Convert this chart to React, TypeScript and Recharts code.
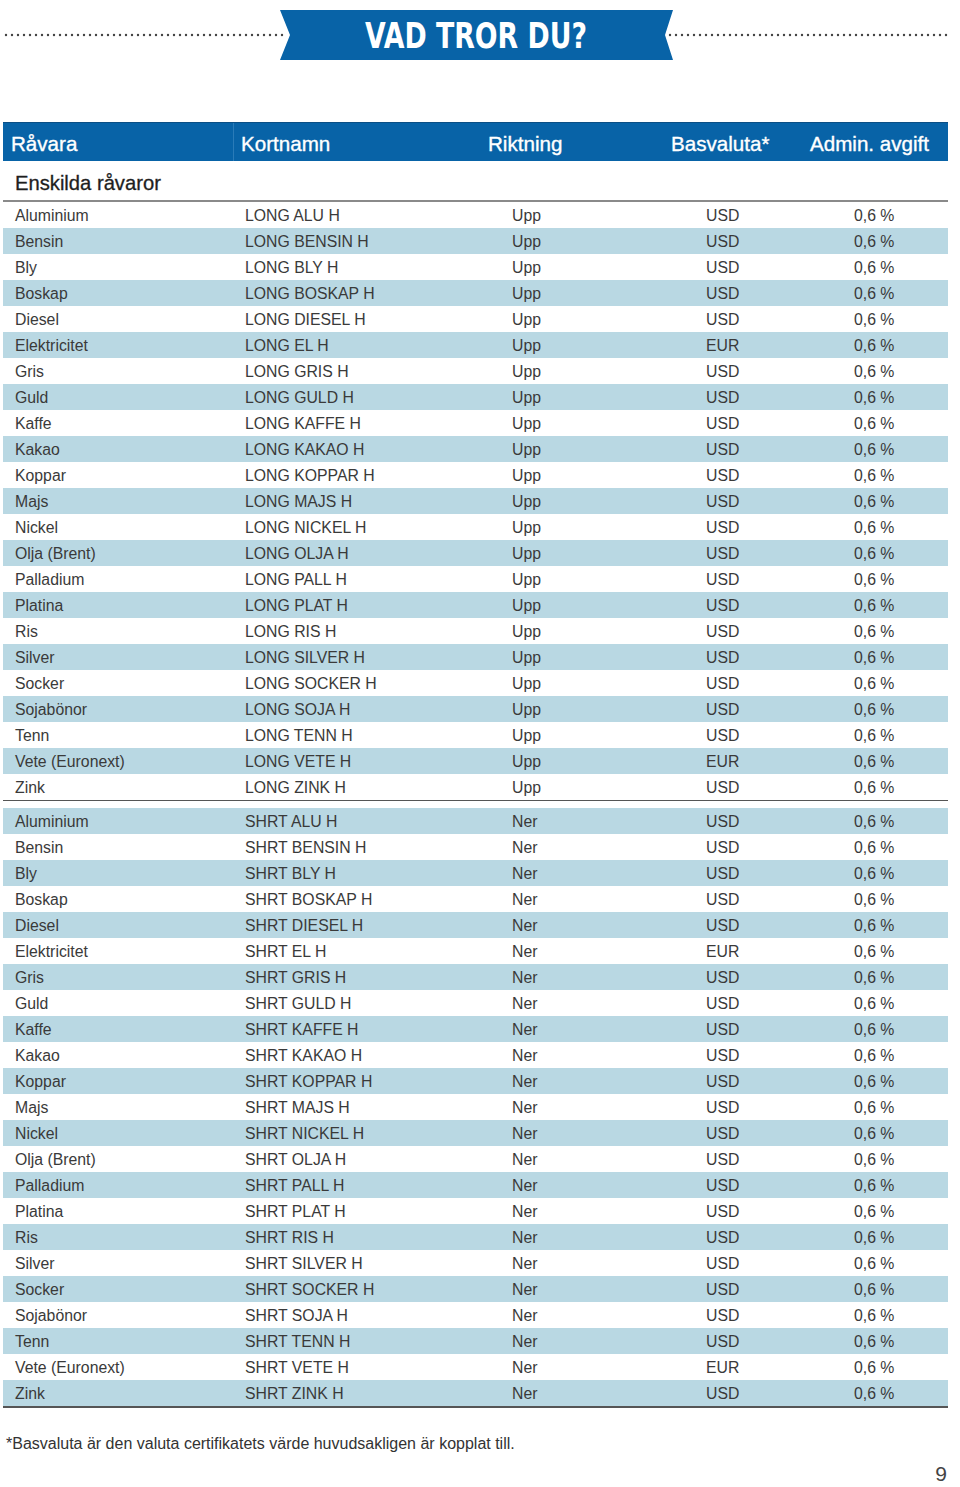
import React from 'react';
import { BarChart, Bar, XAxis, YAxis, Cell, LabelList } from 'recharts';

const HEADERS = ['Råvara', 'Kortnamn', 'Riktning', 'Basvaluta*', 'Admin. avgift'];

const COMMODITIES = [
    'Aluminium', 'Bensin', 'Bly', 'Boskap', 'Diesel', 'Elektricitet', 'Gris', 'Guld',
    'Kaffe', 'Kakao', 'Koppar', 'Majs', 'Nickel', 'Olja (Brent)', 'Palladium', 'Platina',
    'Ris', 'Silver', 'Socker', 'Sojabönor', 'Tenn', 'Vete (Euronext)', 'Zink',
];

const LONG_NAMES = [
    'LONG ALU H', 'LONG BENSIN H', 'LONG BLY H', 'LONG BOSKAP H', 'LONG DIESEL H', 'LONG EL H',
    'LONG GRIS H', 'LONG GULD H', 'LONG KAFFE H', 'LONG KAKAO H', 'LONG KOPPAR H', 'LONG MAJS H',
    'LONG NICKEL H', 'LONG OLJA H', 'LONG PALL H', 'LONG PLAT H', 'LONG RIS H', 'LONG SILVER H',
    'LONG SOCKER H', 'LONG SOJA H', 'LONG TENN H', 'LONG VETE H', 'LONG ZINK H',
];

const SHORT_NAMES = [
    'SHRT ALU H', 'SHRT BENSIN H', 'SHRT BLY H', 'SHRT BOSKAP H', 'SHRT DIESEL H', 'SHRT EL H',
    'SHRT GRIS H', 'SHRT GULD H', 'SHRT KAFFE H', 'SHRT KAKAO H', 'SHRT KOPPAR H', 'SHRT MAJS H',
    'SHRT NICKEL H', 'SHRT OLJA H', 'SHRT PALL H', 'SHRT PLAT H', 'SHRT RIS H', 'SHRT SILVER H',
    'SHRT SOCKER H', 'SHRT SOJA H', 'SHRT TENN H', 'SHRT VETE H', 'SHRT ZINK H',
];

const CURRENCIES = [
    'USD', 'USD', 'USD', 'USD', 'USD', 'EUR', 'USD', 'USD', 'USD', 'USD', 'USD', 'USD',
    'USD', 'USD', 'USD', 'USD', 'USD', 'USD', 'USD', 'USD', 'USD', 'EUR', 'USD',
];

const FEES = COMMODITIES.map(() => '0,6 %');

const BLUE = '#0863a7';
const STRIPE = '#b9d8e3';
const FONT = '"Liberation Sans", Arial, Helvetica, sans-serif';

// text x offsets inside the table (table starts at x=3)
const COL_X = [12, 242, 509, 703, 851];

const makeCol = (colX: number) => (props: any) => {
    const { x, y, height, value } = props;
    return (
        <text
            x={Number(x) + colX}
            y={Number(y) + Number(height) / 2 + 5.5}
            fontSize={15.8}
            fontFamily={FONT}
            fill="#3a3a3a"
        >
            {value}
        </text>
    );
};

const GroupTable: React.FC<{ names: string[]; dir: string; stripeOdd: boolean }> = ({ names, dir, stripeOdd }) => {
    const data = COMMODITIES.map((c, i) => ({
        name: c,
        code: names[i],
        dir,
        cur: CURRENCIES[i],
        fee: FEES[i],
        band: 1,
    }));
    return (
        <BarChart
            width={945}
            height={598}
            data={data}
            layout="vertical"
            margin={{ top: 0, right: 0, bottom: 0, left: 0 }}
            barCategoryGap={0}
        >
            <XAxis type="number" domain={[0, 1]} hide />
            <YAxis type="category" dataKey="name" hide />
            <Bar dataKey="band" isAnimationActive={false}>
                {data.map((d, i) => (
                    <Cell key={`c-${i}`} fill={(i % 2 === 1) === stripeOdd ? STRIPE : '#ffffff'} />
                ))}
                <LabelList dataKey="name" content={makeCol(COL_X[0])} />
                <LabelList dataKey="code" content={makeCol(COL_X[1])} />
                <LabelList dataKey="dir" content={makeCol(COL_X[2])} />
                <LabelList dataKey="cur" content={makeCol(COL_X[3])} />
                <LabelList dataKey="fee" content={makeCol(COL_X[4])} />
            </Bar>
        </BarChart>
    );
};

const App: React.FC = () => {
    return (
        <div style={{ position: 'absolute', left: 0, top: 0, width: 960, height: 1487, background: '#fff', fontFamily: FONT }}>
            {/* title, header bar and rules */}
            <svg width={960} height={1487} style={{ position: 'absolute', left: 0, top: 0 }}>
                <line x1={6} y1={35} x2={286} y2={35} stroke="#444" strokeWidth={2.4} strokeDasharray="0 6" strokeLinecap="round" />
                <line x1={670} y1={35} x2={950} y2={35} stroke="#444" strokeWidth={2.4} strokeDasharray="0 6" strokeLinecap="round" />
                <polygon points="280,10 673,10 665,35 673,60 280,60 290,35" fill={BLUE} />
                <text x={365} y={48} fontSize={35} fontWeight="bold" fill="#fff"
                    textLength={222} lengthAdjust="spacingAndGlyphs"
                    fontFamily='"Liberation Sans Narrow", "DejaVu Sans Condensed", sans-serif'>
                    VAD TROR DU?
                </text>

                <rect x={3} y={122} width={945} height={39} fill={BLUE} />
                <line x1={3} y1={122.5} x2={948} y2={122.5} stroke="#0b4f85" strokeWidth={1} />
                <line x1={233.5} y1={123} x2={233.5} y2={161} stroke="#2a7bb8" strokeWidth={1} />
                {HEADERS.map((h, i) => (
                    <text key={h} x={[11, 241, 488, 671, 810][i]} y={150.5} fontSize={20.6} fill="#fff"
                        stroke="#fff" strokeWidth={0.35}>
                        {h}
                    </text>
                ))}

                <text x={15} y={190} fontSize={20.2} fill="#1e1e1e" stroke="#1e1e1e" strokeWidth={0.3}>
                    Enskilda råvaror
                </text>
                <line x1={3} y1={201} x2={948} y2={201} stroke="#8a8a8a" strokeWidth={2} />
                <line x1={3} y1={800} x2={948} y2={800} stroke="#555" strokeWidth={2} />
                <line x1={3} y1={1407} x2={948} y2={1407} stroke="#555" strokeWidth={2} />

                <text x={6} y={1448.5} fontSize={16} fill="#333">
                    *Basvaluta är den valuta certifikatets värde huvudsakligen är kopplat till.
                </text>
                <text x={947} y={1481} textAnchor="end" fontSize={21} fill="#444">9</text>
            </svg>

            <div style={{ position: 'absolute', left: 3, top: 202 }}>
                <GroupTable names={LONG_NAMES} dir="Upp" stripeOdd={true} />
            </div>
            <div style={{ position: 'absolute', left: 3, top: 808 }}>
                <GroupTable names={SHORT_NAMES} dir="Ner" stripeOdd={false} />
            </div>
        </div>
    );
};

export default App;
